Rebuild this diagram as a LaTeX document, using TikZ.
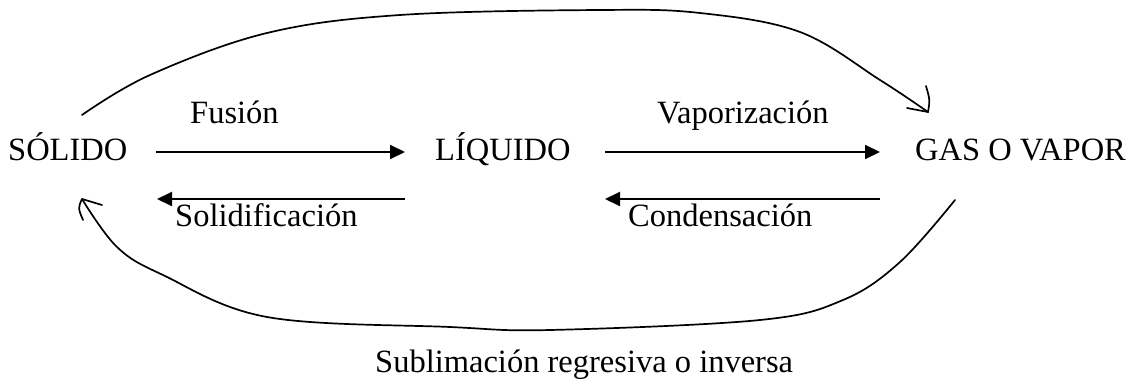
\documentclass[tikz,border=0pt]{standalone}
\usepackage{fontspec}
\setmainfont{Liberation Serif}
\usetikzlibrary{arrows.meta}
\begin{document}
\begin{tikzpicture}[x=1pt,y=-1pt,
  lbl/.style={anchor=base west,inner sep=0pt,font=\fontsize{32.5}{38}\selectfont},
  straight/.style={line width=2pt,-{Triangle[length=15pt,width=14pt]}},
  curve/.style={line width=1.7pt,line cap=round,line join=round}]
\useasboundingbox (0,0) rectangle (1135,380);
\node[lbl] (sol) at (8,160) {SÓLIDO};
\node[lbl] (liq) at (435,160) {LÍQUIDO};
\node[lbl] (gas) at (915,160) {GAS O VAPOR};
\node[lbl] (fus) at (190,123) {Fusión};
\node[lbl] (vap) at (657,123) {Vaporización};
\node[lbl] (soli) at (175,226) {Solidificación};
\node[lbl] (cond) at (628,226) {Condensación};
\node[lbl] (subl) at (375,372) {Sublimación regresiva o inversa};
% arrow endpoints
\coordinate (f1) at (156,152); \coordinate (f2) at (405,152);
\coordinate (s1) at (405,199); \coordinate (s2) at (157,199);
\coordinate (v1) at (605,152); \coordinate (v2) at (880,152);
\coordinate (c1) at (880,199); \coordinate (c2) at (605,199);
\draw[straight] (f1) -- (f2);
\draw[straight] (s1) -- (s2);
\draw[straight] (v1) -- (v2);
\draw[straight] (c1) -- (c2);
% top curve (sublimation)
\coordinate (tS) at (82,115);
\coordinate (tE) at (928,112);
\draw[curve] plot[smooth,tension=0.6] coordinates {(tS) (150,75) (267,33) (400,15) (600,10) (700,13) (800,32) (880,80) (tE)};
\draw[curve] (907,108) -- (tE) .. controls (930,100) .. (926,86);
% bottom curve (inverse sublimation)
\coordinate (bS) at (955,200);
\coordinate (bE) at (82,199);
\draw[curve] plot[smooth,tension=0.6] coordinates {(bS) (900,262) (843,300) (760,320) (550,330) (450,327) (267,317) (163,275) (117,247) (bE)};
\draw[curve] (102,205) -- (bE) .. controls (78,208) .. (83,220);
\end{tikzpicture}
\end{document}
